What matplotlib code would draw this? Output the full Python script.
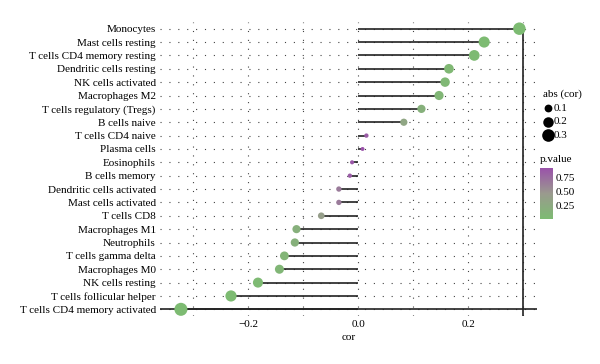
import numpy as np
import matplotlib
matplotlib.use("Agg")
import matplotlib.pyplot as plt
from matplotlib.colors import LinearSegmentedColormap

plt.rcParams['font.family'] = ['Liberation Serif', 'DejaVu Serif']
plt.rcParams['font.size'] = 8

# data, top row first
cells = ["Monocytes", "Mast cells resting", "T cells CD4 memory resting",
         "Dendritic cells resting", "NK cells activated", "Macrophages M2",
         "T cells regulatory (Tregs)", "B cells naive", "T cells CD4 naive",
         "Plasma cells", "Eosinophils", "B cells memory",
         "Dendritic cells activated", "Mast cells activated", "T cells CD8",
         "Macrophages M1", "Neutrophils", "T cells gamma delta",
         "Macrophages M0", "NK cells resting", "T cells follicular helper",
         "T cells CD4 memory activated"]
cor = [0.293, 0.229, 0.211, 0.165, 0.158, 0.147, 0.115, 0.083, 0.015, 0.008,
       -0.011, -0.015, -0.035, -0.035, -0.067, -0.112, -0.115, -0.134,
       -0.143, -0.182, -0.231, -0.322]
pval = [0.0002, 0.004, 0.008, 0.04, 0.05, 0.07, 0.15, 0.30, 0.85, 0.92,
        0.89, 0.85, 0.66, 0.66, 0.40, 0.16, 0.15, 0.09, 0.07, 0.02, 0.003,
        0.00004]
xticks = [-0.2, 0.0, 0.2]
size_breaks = [0.1, 0.2, 0.3]
pv_breaks = [0.25, 0.50, 0.75]

cor = np.array(cor)
pval = np.array(pval)
ypos = np.arange(len(cells))[::-1]

cmap = LinearSegmentedColormap.from_list("pg", ["#7dbb72", "#9a9a8e", "#9a52aa"])


def dot_size(v):
    return 6 + 255 * np.abs(v)


fig = plt.figure(figsize=(6, 3.64), dpi=100)
ax = fig.add_axes([160 / 600, 1 - 316 / 364, 377 / 600, 294 / 364])

# dotted grid
for y in ypos:
    ax.axhline(y, color='#444444', lw=0.8, ls=(0, (1, 7)), zorder=0)
for x in np.arange(-0.3, 0.31, 0.1):
    ax.axvline(x, color='#444444', lw=0.8, ls=(0, (1, 7)), zorder=0)

ax.hlines(ypos, 0, cor, color='#222222', lw=1.2, zorder=1)
sc = ax.scatter(cor, ypos, s=dot_size(cor), c=pval, cmap=cmap,
                vmin=pval.min(), vmax=pval.max(), zorder=3, linewidths=0)

ax.axhline(ypos[-1], color='#222222', lw=1.2, zorder=1)
ax.vlines(0.3, -0.5, ypos[0], color='#222222', lw=1.2, zorder=2)

ax.set_xlim(-0.36, 0.325)
ax.set_ylim(-0.5, len(cells) - 0.5)
ax.set_yticks(ypos)
ax.set_yticklabels(cells)
ax.set_xticks(xticks)
ax.set_xticklabels(["\u22120.2", "0.0", "0.2"])
ax.tick_params(length=0, pad=3)
ax.set_xlabel("cor", labelpad=3)
for s in ax.spines.values():
    s.set_visible(False)

# size legend
handles = [ax.scatter([], [], s=dot_size(v), color='black', linewidths=0)
           for v in size_breaks]
leg = fig.legend(handles, [str(v) for v in size_breaks], title="abs (cor)",
                 loc='upper left', bbox_to_anchor=(537 / 600, 1 - 84 / 364),
                 frameon=False, labelspacing=0.35, handletextpad=0.0,
                 borderpad=0, handlelength=1.0, alignment='left')

# colour bar
cax = fig.add_axes([540 / 600, 1 - 219 / 364, 13 / 600, 51 / 364])
cb = fig.colorbar(sc, cax=cax)
cb.outline.set_visible(False)
cb.set_ticks(pv_breaks)
cb.set_ticklabels(["%.2f" % v for v in pv_breaks])
cax.tick_params(length=0, pad=2)
cax.set_title("p.value", loc='left', fontsize=8, pad=4)

fig.savefig("out.png", dpi=100, facecolor='white')
